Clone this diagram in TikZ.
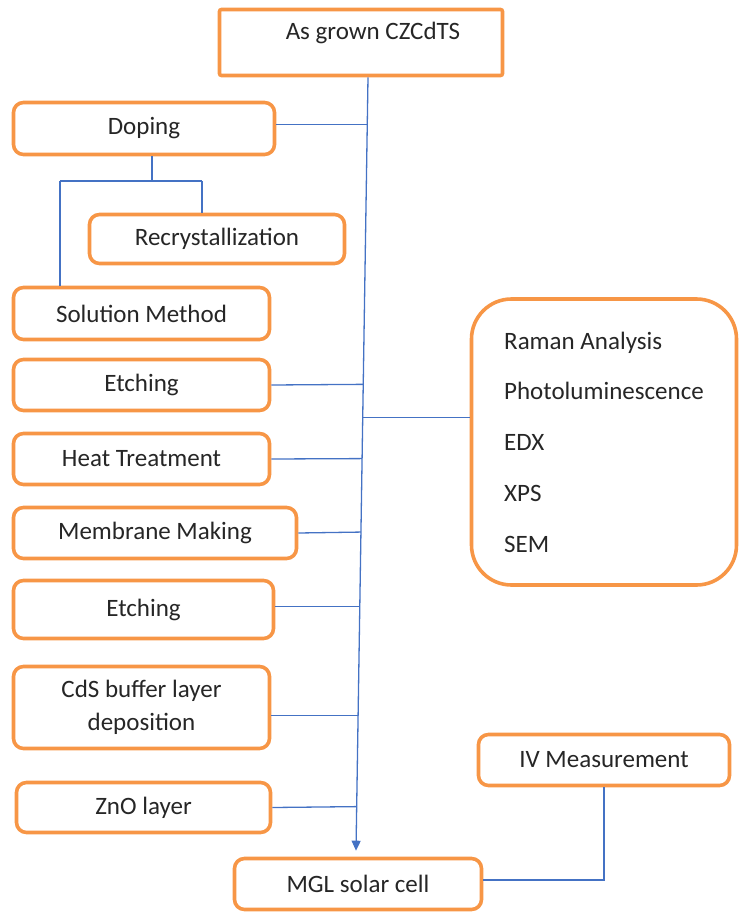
\documentclass[tikz,border=0pt]{standalone}
\usepackage{fontspec}
\setmainfont{Carlito}
\usetikzlibrary{arrows.meta,calc}
\definecolor{boxorange}{RGB}{247,150,70}
\definecolor{lineblue}{RGB}{68,114,196}
\begin{document}
\begin{tikzpicture}[x=1pt,y=-1pt,
  box/.style={draw=boxorange, line width=3.6pt, rounded corners=10pt, fill=white,
    inner sep=0pt, font=\fontsize{25}{33}\selectfont, text=black!85, align=center},
  conn/.style={draw=lineblue, line width=1.3pt},
  lbl/.style={font=\fontsize{25}{33}\selectfont, text=black!85}
]
\useasboundingbox (0,0) rectangle (740,913);

% boxes
\node[box, rounded corners=2pt, minimum width=283, minimum height=66] (grown) at (361,42.5) {};
\node[lbl] (grownlbl) at ($(grown.center)+(12,-10)$) {As grown CZCdTS};
\node[box, minimum width=261, minimum height=52] (doping) at (144,128.5) {Doping};
\node[box, minimum width=255, minimum height=49] (recryst) at (217,239) {Recrystallization};
\node[box, minimum width=256, minimum height=52] (solution) at (141.5,313.5) {Solution Method};
\node[box, minimum width=256, minimum height=51] (etch1) at (141.5,385) {Etching};
\node[box, minimum width=256, minimum height=51] (heat) at (141.5,459) {Heat Treatment};
\node[box, minimum width=283, minimum height=51] (membrane) at (155,533) {Membrane Making};
\node[box, minimum width=260, minimum height=58] (etch2) at (143.5,609.5) {Etching};
\node[box, minimum width=256, minimum height=82] (cds) at (141.5,707.5) {CdS buffer layer\\deposition};
\node[box, minimum width=254, minimum height=50] (zno) at (143.5,807.5) {ZnO layer};
\node[box, minimum width=247, minimum height=51] (mgl) at (358,884) {MGL solar cell};
\node[box, minimum width=251, minimum height=51] (iv) at (604,760) {IV Measurement};
\node[box, rounded corners=40pt, minimum width=265, minimum height=286, align=left,
  font=\fontsize{25}{50.7}\selectfont] (raman) at (604,442) {Raman Analysis\\Photoluminescence\\EDX\\XPS\\SEM};

% main vertical line
\coordinate (mtop) at ($(grown.south)+(7,0)$);
\coordinate (mbot) at ($(mgl.north)+(-2,-6)$);
\draw[conn, -{Triangle[width=9pt,length=10pt]}] (mtop) -- (mbot);

\coordinate (b1) at ($(mtop)!0.061!(mbot)$);
\coordinate (b2) at ($(mtop)!0.397!(mbot)$);
\coordinate (b3) at ($(mtop)!0.440!(mbot)$);
\coordinate (b4) at ($(mtop)!0.493!(mbot)$);
\coordinate (b5) at ($(mtop)!0.588!(mbot)$);
\coordinate (b6) at ($(mtop)!0.684!(mbot)$);
\coordinate (b7) at ($(mtop)!0.825!(mbot)$);
\coordinate (b8) at ($(mtop)!0.943!(mbot)$);

\draw[conn] (b1 -| doping.east) -- (b1);
\draw[conn] (etch1.east) -- (b2);
\draw[conn] (b3) -- (b3 -| raman.west);
\draw[conn] (heat.east) -- (b4);
\draw[conn] (membrane.east) -- (b5);
\draw[conn] (b6 -| etch2.east) -- (b6);
\draw[conn] (b7 -| cds.east) -- (b7);
\draw[conn] (zno.east) -- (b8);

% doping sub-tree
\coordinate (dj) at (152,181);
\coordinate (jl) at (60,181);
\coordinate (jr) at (202,181);
\draw[conn] (dj |- doping.south) -- (dj);
\draw[conn] (jl) -- (jr);
\draw[conn] (jr) -- (jr |- recryst.north);
\draw[conn] (jl) -- (jl |- solution.north);

% IV measurement
\draw[conn] ($(mgl.east)+(0,-4)$) -| (iv.south);
\end{tikzpicture}
\end{document}
